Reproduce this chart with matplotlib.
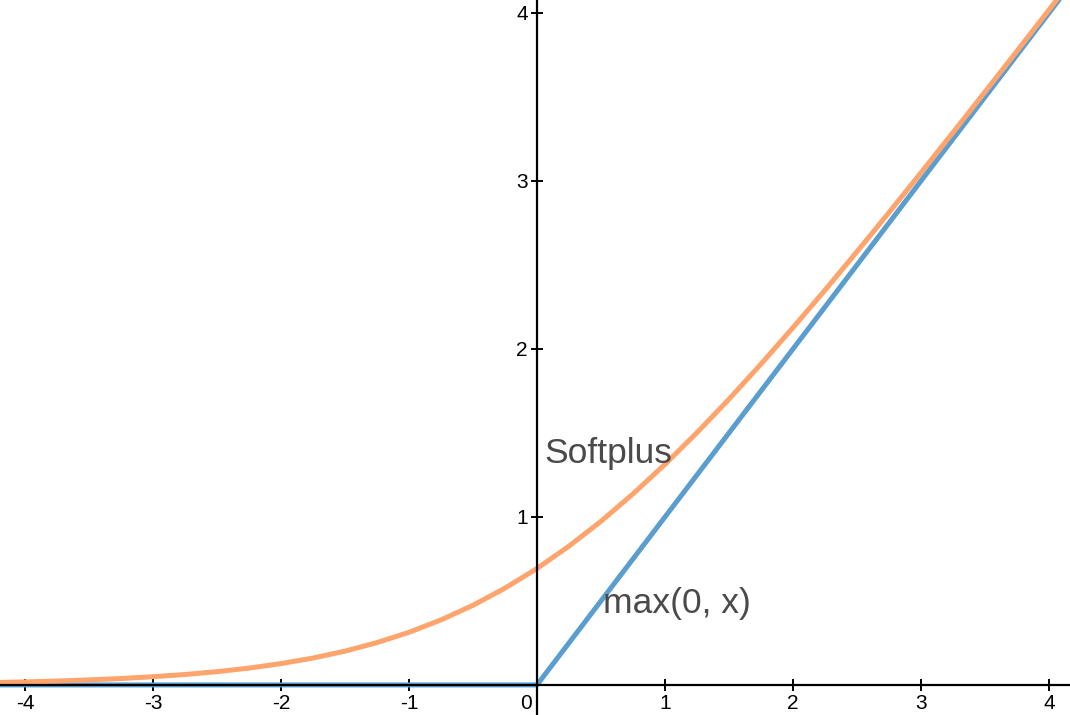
import matplotlib.pyplot as plt
import matplotlib.transforms as mtransforms

# softplus, 0.25 steps
sp_x = [-4.25, -4.0, -3.75, -3.5, -3.25, -3.0, -2.75, -2.5, -2.25, -2.0,
        -1.75, -1.5, -1.25, -1.0, -0.75, -0.5, -0.25, 0.0, 0.25, 0.5,
        0.75, 1.0, 1.25, 1.5, 1.75, 2.0, 2.25, 2.5, 2.75, 3.0,
        3.25, 3.5, 3.75, 4.0, 4.25]
sp_y = [0.014, 0.018, 0.023, 0.030, 0.038, 0.049, 0.062, 0.079, 0.100, 0.127,
        0.160, 0.201, 0.252, 0.313, 0.387, 0.474, 0.576, 0.693, 0.826, 0.974,
        1.137, 1.313, 1.502, 1.701, 1.910, 2.127, 2.350, 2.579, 2.812, 3.049,
        3.288, 3.530, 3.773, 4.018, 4.264]

relu_x = [-4.25, 0.0, 4.25]
relu_y = [0.0, 0.0, 4.25]

x_ticks = [-4, -3, -2, -1, 0, 1, 2, 3, 4]
y_ticks = [1, 2, 3, 4]

plt.rcParams['font.family'] = ['Liberation Sans', 'DejaVu Sans']

fig = plt.figure(figsize=(10.7, 7.15), dpi=100)
ax = fig.add_axes([0, 0, 1, 1])

ax.plot(relu_x, relu_y, color='#5a9ecf', lw=3.6, zorder=2, solid_capstyle='butt')
ax.plot(sp_x, sp_y, color='#fea46c', lw=3.6, zorder=3, solid_capstyle='butt')

ax.set_xlim(-4.195, 4.164)
ax.set_ylim(-0.179, 4.077)

for s in ['top', 'right']:
    ax.spines[s].set_visible(False)
for s in ['left', 'bottom']:
    ax.spines[s].set_position(('data', 0))
    ax.spines[s].set_linewidth(1.6)
    ax.spines[s].set_zorder(4)

ax.set_xticks(x_ticks)
ax.set_xticklabels([str(t) for t in x_ticks])
ax.set_yticks(y_ticks)
ax.set_yticklabels([str(t) for t in y_ticks])
ax.tick_params(direction='inout', length=9, width=1.4, labelsize=15, pad=2)

# push the "0" label left of the vertical axis
for lab in ax.get_xticklabels():
    if lab.get_text() == '0':
        lab.set_transform(lab.get_transform() +
                          mtransforms.ScaledTranslation(-0.11, 0, fig.dpi_scale_trans))

ax.text(0.06, 1.32, 'Softplus', fontsize=25.5, color='#4a4a4a', zorder=5)
ax.text(0.515, 0.43, 'max(0, x)', fontsize=25.5, color='#4a4a4a', zorder=5)

fig.savefig('out.png', dpi=100)
